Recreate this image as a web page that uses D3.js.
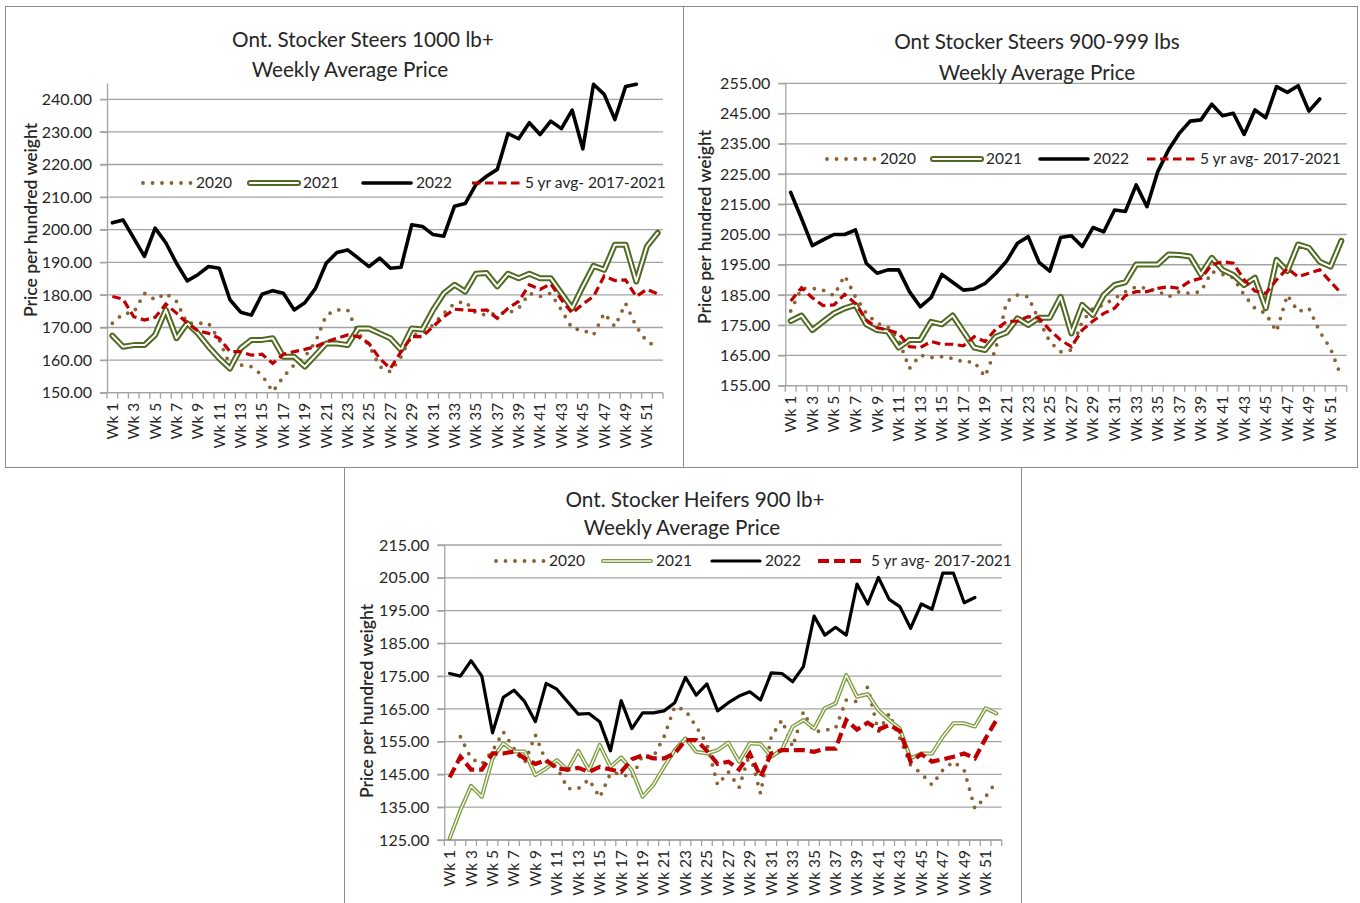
<!DOCTYPE html>
<html>
<head>
<meta charset="utf-8">
<script src="https://cdn.jsdelivr.net/npm/d3@7"></script>
<style>
  body { margin: 0; background: #fff; }
  text { font-family: Lato, "Open Sans", sans-serif; fill: #262626; }
</style>
</head>
<body>
<svg id="chart" width="1360" height="903"></svg>
<script>
// categories
var weeks = d3.range(1, 53).map(function(i) { return "Wk " + i; });
var seriesNames = ["2020", "2021", "2022", "5 yr avg- 2017-2021"];

// y tick labels per chart
var yTicks1 = [150, 160, 170, 180, 190, 200, 210, 220, 230, 240];
var yTicks2 = [155, 165, 175, 185, 195, 205, 215, 225, 235, 245, 255];
var yTicks3 = [125, 135, 145, 155, 165, 175, 185, 195, 205, 215];

// Ont. Stocker Steers 1000 lb+
var s1_2020 = [171.3,174.2,174.6,180.5,178.5,180.5,178.0,171.3,171.3,171.3,166.2,158.5,158.5,158.0,155.4,150.3,154.9,158.5,161.0,165.6,173.8,175.4,175.4,168.2,164.6,158.0,156.4,161.0,167.7,168.2,170.8,174.4,177.4,178.0,174.4,173.8,174.4,174.4,175.9,180.5,179.5,180.5,175.4,169.7,169.2,167.7,174.4,170.3,177.4,170.3,165.6,164.1];
var s1_2021 = [167.5,164.1,164.6,164.6,167.7,175.4,166.7,171.3,168.2,164.1,160.5,157.4,163.6,166.2,166.2,166.7,161.0,161.0,158.0,161.5,165.1,165.1,164.6,169.7,169.7,168.2,166.7,163.1,169.7,169.4,175.4,180.5,183.1,181.0,186.5,186.7,182.6,186.5,185.1,186.5,185.1,185.1,180.5,175.9,182.6,188.9,187.7,195.4,195.4,184.1,194.9,199.0];
var s1_2022 = [202.1,203.0,197.4,191.8,200.5,196.0,189.7,184.3,186.2,188.7,188.2,178.5,174.7,173.8,180.2,181.3,180.5,175.4,177.6,182.0,189.7,193.0,193.8,191.3,188.7,191.3,188.2,188.5,201.5,201.0,198.5,198.0,207.2,208.0,213.8,216.4,218.5,229.5,227.9,232.8,229.2,233.3,231.0,236.7,224.8,244.6,241.5,233.8,243.9,244.6,null,null];
var s1_avg = [179.5,178.7,173.3,172.3,173.1,177.2,174.4,171.3,169.0,168.2,166.7,162.6,162.6,161.5,161.8,159.0,161.8,162.6,163.3,164.1,165.6,166.7,167.7,167.2,165.1,160.5,157.4,162.6,167.2,167.2,170.3,173.3,175.6,175.4,175.2,175.4,172.8,175.9,178.0,183.1,181.7,183.4,178.5,174.4,177.2,179.5,185.8,184.4,184.6,179.5,181.7,180.3];

// Ont Stocker Steers 900-999 lbs
var s2_2020 = [179.7,187.2,187.2,186.6,184.8,191.4,184.4,178.9,175.6,174.5,170.1,160.7,165.1,164.3,164.6,164.0,162.9,162.9,158.0,167.3,182.8,185.0,184.4,176.7,169.6,166.2,166.8,176.2,180.6,181.7,183.9,186.1,187.7,187.2,186.3,184.4,186.1,185.5,186.1,192.7,191.8,190.7,185.0,180.6,178.9,172.9,185.0,179.5,180.6,172.9,167.3,158.0];
var s2_2021 = [176.4,178.2,173.4,176.2,178.9,180.6,181.7,175.3,173.4,172.9,167.6,170.1,170.1,176.1,175.3,178.2,172.9,167.6,166.8,171.2,172.6,177.3,175.1,177.5,177.5,184.4,172.3,181.7,178.4,185.0,188.3,189.2,195.1,195.1,195.1,198.4,198.2,197.7,191.8,197.3,193.3,191.6,188.3,190.7,180.6,196.6,192.9,201.7,200.6,196.0,194.4,202.9];
var s2_2022 = [218.9,210.3,201.3,203.2,205.0,205.0,206.5,195.5,192.2,193.3,193.3,186.1,181.1,184.1,191.8,189.2,186.6,187.0,188.8,192.2,196.2,202.1,204.3,195.8,192.9,204.0,204.6,201.0,207.3,205.9,213.1,212.6,221.4,214.2,225.8,233.0,238.5,242.5,242.9,248.1,244.3,245.1,238.1,246.2,243.6,253.9,252.0,254.2,245.8,249.8,null,null];
var s2_avg = [183.0,187.4,184.1,181.5,181.7,185.2,182.2,176.7,174.2,173.4,172.3,167.9,167.6,169.6,168.7,168.7,168.2,171.2,169.6,173.7,176.2,176.4,177.8,177.3,173.4,170.1,167.9,173.4,176.4,178.9,180.6,184.8,186.1,186.1,187.2,187.7,187.2,189.6,190.5,194.9,196.0,195.5,190.0,186.3,185.5,190.0,193.8,191.0,192.2,193.3,189.4,185.5];

// Ont. Stocker Heifers 900 lb+
var s3_2020 = [null,156.5,149.9,148.2,152.2,158.0,152.9,148.6,157.0,148.9,147.3,140.7,140.7,143.5,138.0,145.3,145.3,143.8,150.9,150.4,156.5,165.7,164.6,159.6,154.3,141.8,145.8,141.0,151.4,139.2,156.5,161.6,153.4,164.1,158.0,158.5,159.1,167.7,167.2,171.7,158.0,163.6,156.0,147.9,145.3,141.8,146.3,148.9,146.3,134.6,138.2,142.8];
var s3_2021 = [125.5,134.1,141.5,138.2,149.9,154.5,152.0,152.0,144.8,146.8,149.4,146.3,152.2,146.3,154.0,147.3,150.2,146.3,138.2,141.8,147.3,152.4,156.0,151.9,151.4,152.4,154.7,148.9,154.5,154.3,150.4,152.6,159.6,161.6,159.0,165.2,166.7,175.3,168.7,169.5,164.6,161.6,159.0,149.9,151.4,151.4,156.5,160.6,160.6,159.6,165.2,163.6];
var s3_2022 = [175.8,175.0,179.7,175.0,157.7,168.5,170.7,167.2,161.1,172.8,171.0,167.2,163.4,163.6,161.1,152.2,167.5,159.0,163.8,163.8,164.4,166.9,174.6,169.2,172.6,164.4,166.9,168.9,170.2,167.7,176.0,175.8,173.3,177.9,193.3,187.5,189.9,187.5,203.1,197.0,205.1,198.4,196.2,189.6,197.0,195.4,206.4,206.4,197.4,199.0,null,null];
var s3_avg = [144.1,150.4,146.5,146.5,151.4,151.4,152.0,149.9,148.2,149.4,146.8,146.5,147.0,145.8,147.3,146.5,145.8,149.6,150.9,149.9,149.9,151.4,155.5,155.5,152.2,148.2,148.9,146.5,151.4,144.3,151.4,152.4,152.4,152.4,151.9,152.9,152.9,161.6,158.7,160.8,158.7,160.1,158.3,148.9,151.2,148.9,149.6,150.4,151.4,149.9,156.0,161.6];

// layout of the three panels
var charts = [
  { title: ["Ont. Stocker Steers 1000 lb+", "Weekly Average Price"],
    titleX: [363, 350], titleY: [47, 77],
    box: { x: 5, y: 6, w: 678, h: 461 },
    plot: { left: 107, top: 83, right: 663, bottom: 392.7 },
    domain: [150, 245], ticks: yTicks1,
    series: [s1_2020, s1_2021, s1_2022, s1_avg],
    legendY: 183, legendX: [143, 250, 363, 472],
    yTitle: [31, 220], thin: false },
  { title: ["Ont Stocker Steers 900-999 lbs", "Weekly Average Price"],
    titleX: [1037, 1037], titleY: [49, 80],
    box: { x: 683, y: 6, w: 674, h: 461 },
    plot: { left: 785.3, top: 83.3, right: 1346.7, bottom: 385.7 },
    domain: [155, 255], ticks: yTicks2,
    series: [s2_2020, s2_2021, s2_2022, s2_avg],
    legendY: 159, legendX: [827, 933, 1040, 1147],
    yTitle: [705, 227], thin: false },
  { title: ["Ont. Stocker Heifers 900 lb+", "Weekly Average Price"],
    titleX: [695, 682], titleY: [507, 535],
    box: { x: 344, y: 467, w: 677, h: 445 },
    plot: { left: 444.3, top: 545, right: 1001.7, bottom: 840 },
    domain: [125, 215], ticks: yTicks3,
    series: [s3_2020, s3_2021, s3_2022, s3_avg],
    legendY: 561, legendX: [496, 603, 712, 818],
    yTitle: [367, 701], thin: true }
];

var svg = d3.select("#chart");
svg.append("rect").attr("width", 1360).attr("height", 903).attr("fill", "#fff");

// draws a path with the style of series k (0: 2020 dots, 1: 2021 double, 2: 2022, 3: 5 yr avg)
function styledPath(g, d, k, thin) {
  if (k === 0) {
    g.append("path").attr("d", d).attr("fill", "none")
      .attr("stroke", "#8a6233").attr("stroke-width", 3.8)
      .attr("stroke-linecap", "round").attr("stroke-dasharray", "0 9.5");
  } else if (k === 1) {
    g.append("path").attr("d", d).attr("fill", "none")
      .attr("stroke", thin ? "#7b9a3f" : "#506a22").attr("stroke-width", thin ? 4 : 6)
      .attr("stroke-linejoin", "round").attr("stroke-linecap", "round");
    g.append("path").attr("d", d).attr("fill", "none")
      .attr("stroke", thin ? "#f4f7ea" : "#fff").attr("stroke-width", thin ? 1.4 : 2)
      .attr("stroke-linejoin", "round").attr("stroke-linecap", "round");
  } else if (k === 2) {
    g.append("path").attr("d", d).attr("fill", "none")
      .attr("stroke", "#000").attr("stroke-width", thin ? 3.2 : 3.6)
      .attr("stroke-linejoin", "round").attr("stroke-linecap", "round");
  } else {
    g.append("path").attr("d", d).attr("fill", "none")
      .attr("stroke", "#c00000").attr("stroke-width", thin ? 4.2 : 3.2)
      .attr("stroke-dasharray", thin ? "11 5" : "8.5 4.5");
  }
}

charts.forEach(function(c) {
  var g = svg.append("g");

  g.append("rect")
    .attr("x", c.box.x + 0.5).attr("y", c.box.y + 0.5)
    .attr("width", c.box.w).attr("height", c.box.h)
    .attr("fill", "#fff").attr("stroke", "#8c8c8c").attr("stroke-width", 1);

  var x = d3.scaleBand().domain(weeks).range([c.plot.left, c.plot.right]);
  var y = d3.scaleLinear().domain(c.domain).range([c.plot.bottom, c.plot.top]);

  // gridlines
  g.append("g").selectAll("line").data(c.ticks).join("line")
    .attr("x1", c.plot.left - 7).attr("x2", c.plot.right)
    .attr("y1", function(d) { return y(d); }).attr("y2", function(d) { return y(d); })
    .attr("stroke", "#a3a3a3").attr("stroke-width", 1.3);

  // y axis
  var ya = g.append("g").attr("transform", "translate(" + c.plot.left + ",0)")
    .call(d3.axisLeft(y).tickValues(c.ticks).tickSize(7).tickSizeOuter(0)
      .tickPadding(8).tickFormat(d3.format(".2f")));
  ya.attr("font-family", null).attr("font-size", null);
  ya.selectAll("line, path").attr("stroke", "#a3a3a3").attr("stroke-width", 1.3);
  ya.selectAll("text").style("font-size", "16px").attr("fill", "#262626");

  // x axis: boundary ticks + rotated labels on odd weeks
  var xa = g.append("g");
  xa.append("line")
    .attr("x1", c.plot.left).attr("x2", c.plot.right)
    .attr("y1", c.plot.bottom).attr("y2", c.plot.bottom)
    .attr("stroke", "#a3a3a3").attr("stroke-width", 1.3);
  xa.selectAll("line.tk").data(weeks.concat(["end"])).join("line").attr("class", "tk")
    .attr("x1", function(d) { return d === "end" ? c.plot.right : x(d); })
    .attr("x2", function(d) { return d === "end" ? c.plot.right : x(d); })
    .attr("y1", c.plot.bottom).attr("y2", c.plot.bottom + 6)
    .attr("stroke", "#a3a3a3").attr("stroke-width", 1.3);
  xa.selectAll("text").data(weeks.filter(function(d, i) { return i % 2 === 0; })).join("text")
    .attr("transform", function(d) {
      return "translate(" + (x(d) + x.bandwidth() / 2) + "," + (c.plot.bottom + 10) + ") rotate(-90)";
    })
    .attr("text-anchor", "end").attr("dy", "0.35em")
    .style("font-size", "15.5px")
    .text(function(d) { return d; });

  // y axis title
  g.append("text")
    .attr("transform", "translate(" + c.yTitle[0] + "," + c.yTitle[1] + ") rotate(-90)")
    .attr("text-anchor", "middle").attr("dy", "0.35em")
    .style("font-size", "17.5px").style("font-weight", 600)
    .text("Price per hundred weight");

  // titles
  c.title.forEach(function(t, i) {
    g.append("text").attr("x", c.titleX[i]).attr("y", c.titleY[i])
      .attr("text-anchor", "middle").style("font-size", "20.7px").text(t);
  });

  // series
  var line = d3.line()
    .defined(function(d) { return d != null; })
    .x(function(d, i) { return x(weeks[i]) + x.bandwidth() / 2; })
    .y(function(d) { return y(d); });
  c.series.forEach(function(s, k) {
    styledPath(g, line(s), k, c.thin);
  });

  // legend
  seriesNames.forEach(function(name, k) {
    var lx = c.legendX[k];
    styledPath(g, "M" + lx + "," + c.legendY + "H" + (lx + 48), k, c.thin);
    g.append("text").attr("x", lx + 53).attr("y", c.legendY).attr("dy", "0.35em")
      .style("font-size", "15.5px").text(name);
  });
});
</script>
</body>
</html>
